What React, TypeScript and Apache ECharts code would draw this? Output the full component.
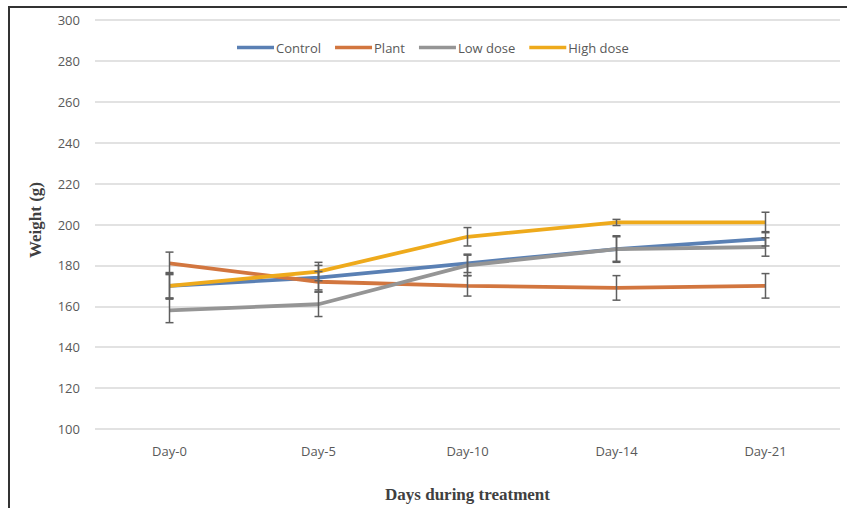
import React, { useEffect, useRef } from "react";
import * as echarts from "echarts";

const categories = ["Day-0", "Day-5", "Day-10", "Day-14", "Day-21"];
const control = [170, 174, 181, 188, 193];
const plant = [181, 172, 170, 169, 170];
const lowDose = [158, 161, 180, 188, 189];
const highDose = [170, 177, 194, 201, 201];
const controlErr = [6.5, 6, 4.5, 6.5, 3.5];
const plantErr = [5.5, 5, 5, 6, 6];
const lowDoseErr = [6, 6, 5, 6, 4.5];
const highDoseErr = [6, 4.5, 4.5, 1.5, 5];

const seriesDefs = [
  { name: "Control", data: control, err: controlErr, color: "#5a80b4" },
  { name: "Plant", data: plant, err: plantErr, color: "#d2763f" },
  { name: "Low dose", data: lowDose, err: lowDoseErr, color: "#959595" },
  { name: "High dose", data: highDose, err: highDoseErr, color: "#eeaa1c" },
];

export default function App() {
  const ref = useRef<HTMLDivElement>(null);
  useEffect(() => {
    if (!ref.current) return;
    const chart = echarts.init(ref.current, null, { renderer: "svg" });
    const lineSeries = seriesDefs.map((s) => ({
      name: s.name,
      type: "line",
      data: s.data,
      symbol: "none",
      lineStyle: { width: 3.8, color: s.color },
      itemStyle: { color: s.color },
      z: 2,
    }));
    const errSeries = seriesDefs.map((s) => ({
      name: s.name + " err",
      type: "custom",
      data: s.data.map((v, i) => [i, v - s.err[i], v + s.err[i]]),
      encode: { x: 0, y: [1, 2] },
      z: 3,
      silent: true,
      renderItem: (params: any, api: any) => {
        const lo = api.coord([api.value(0), api.value(1)]);
        const hi = api.coord([api.value(0), api.value(2)]);
        const hw = 4;
        const st = { stroke: "#5f5f5f", lineWidth: 1.5 };
        return {
          type: "group",
          children: [
            { type: "line", shape: { x1: lo[0], y1: lo[1], x2: hi[0], y2: hi[1] }, style: st },
            { type: "line", shape: { x1: lo[0] - hw, y1: lo[1], x2: lo[0] + hw, y2: lo[1] }, style: st },
            { type: "line", shape: { x1: hi[0] - hw, y1: hi[1], x2: hi[0] + hw, y2: hi[1] }, style: st },
          ],
        };
      },
    }));
    chart.setOption({
      animation: false,
      backgroundColor: "#ffffff",
      textStyle: { fontFamily: "Open Sans" },
      grid: { left: 95, right: 7, top: 20, bottom: 78 },
      legend: {
        data: seriesDefs.map((s) => ({ name: s.name, icon: "rect" })),
        left: 232,
        top: 36,
        itemWidth: 37,
        itemHeight: 3.5,
        itemGap: 14,
        textStyle: { color: "#595959", fontSize: 13, fontFamily: "Open Sans", padding: [0, 0, 0, -3] },
      },
      xAxis: {
        type: "category",
        data: categories,
        boundaryGap: true,
        axisLine: { show: false },
        axisTick: { show: false },
        axisLabel: { color: "#595959", fontSize: 13, margin: 15 },
        name: "Days during treatment",
        nameLocation: "middle",
        nameGap: 57,
        nameTextStyle: {
          color: "#404040",
          fontSize: 17,
          fontWeight: "bold",
          fontFamily: "Liberation Serif",
        },
      },
      yAxis: {
        type: "value",
        min: 100,
        max: 300,
        interval: 20,
        axisLine: { show: false },
        axisTick: { show: false },
        axisLabel: { color: "#595959", fontSize: 13, margin: 15 },
        splitLine: { lineStyle: { color: "#d9d9d9", width: 1.5 } },
      },
      graphic: [
        {
          type: "text",
          x: 35,
          y: 220,
          rotation: Math.PI / 2,
          style: {
            text: "Weight (g)",
            fill: "#404040",
            font: "bold 17px 'Liberation Serif'",
            align: "center",
            verticalAlign: "middle",
          },
        },
        { type: "line", shape: { x1: 9, y1: 7, x2: 9, y2: 508 }, style: { stroke: "#333333", lineWidth: 2 } },
        { type: "line", shape: { x1: 8, y1: 7, x2: 847, y2: 7 }, style: { stroke: "#333333", lineWidth: 2 } },
      ],
      series: [...lineSeries, ...errSeries],
    });
    return () => chart.dispose();
  }, []);
  return <div ref={ref} style={{ width: 847, height: 508, position: "fixed", left: 0, top: 0 }} />;
}
